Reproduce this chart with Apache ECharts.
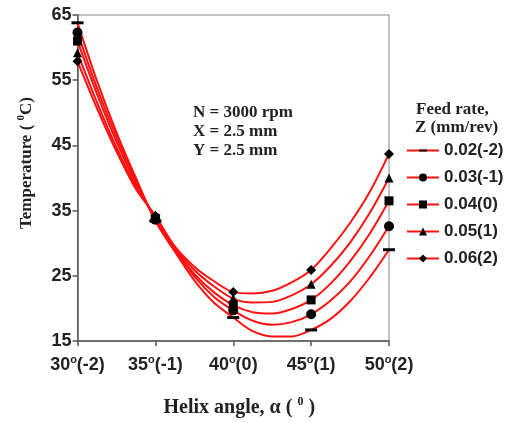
<!DOCTYPE html>
<html>
<head>
<meta charset="utf-8">
<script src="https://cdn.jsdelivr.net/npm/echarts@6/dist/echarts.min.js"></script>
<style>html,body{margin:0;padding:0;background:#fff}#c{width:516px;height:423px}</style>
</head>
<body>
<div id="c"></div>
<script>
// measured points (markers)
var helixAngles = [30, 35, 40, 45, 50];
var helixLevels = ['-2', '-1', '0', '1', '2'];
var seriesNames = ['0.02(-2)', '0.03(-1)', '0.04(0)', '0.05(1)', '0.06(2)'];
var feed002 = [63.8, 33.4, 18.6, 16.7, 29.0];
var feed003 = [62.3, 33.6, 19.7, 19.1, 32.6];
var feed004 = [61.0, 33.8, 20.5, 21.3, 36.5];
var feed005 = [59.2, 34.0, 21.5, 23.7, 40.0];
var feed006 = [57.9, 34.2, 22.5, 25.9, 43.7];
// fitted curve positions read between the measured angles (3 per gap)
var midAngles = [31.25, 32.5, 33.75, 36.25, 37.5, 38.75, 41.25, 42.5, 43.75, 46.25, 47.5, 48.75];
var curve002 = [54.9, 47.0, 40.0, 28.7, 24.3, 20.9, 16.5, 15.7, 15.7, 18.4, 21.1, 24.7];
var curve003 = [53.8, 46.3, 39.6, 29.0, 24.9, 21.8, 18.1, 17.5, 17.9, 21.2, 24.1, 28.0];
var curve004 = [52.9, 45.6, 39.2, 29.1, 25.3, 22.5, 19.4, 19.2, 19.9, 23.8, 27.2, 31.4];
var curve005 = [51.6, 44.7, 38.7, 29.3, 25.9, 23.4, 20.9, 21.0, 22.0, 26.5, 30.1, 34.6];
var curve006 = [50.7, 44.1, 38.3, 29.5, 26.4, 24.2, 22.3, 22.7, 24.0, 29.2, 33.1, 37.8];
var yTicks = [15, 25, 35, 45, 55, 65];

var allMarkers = [feed002, feed003, feed004, feed005, feed006];
var allCurves = [curve002, curve003, curve004, curve005, curve006];
var symbols = ['path://M0,0M0,4.5H12V7.5H0ZM12,12', 'circle', 'rect', 'triangle', 'diamond'];
var symSizes = [12, 10, 9, 9, 10];

var chart = echarts.init(document.getElementById('c'), null, {renderer: 'canvas'});

var series = allMarkers.map(function (vals, i) {
  var pts = [];
  helixAngles.forEach(function (a, j) { pts.push({value: [a, vals[j]]}); });
  midAngles.forEach(function (a, j) { pts.push({value: [a, allCurves[i][j]], symbol: 'none'}); });
  pts.sort(function (p, q) { return p.value[0] - q.value[0]; });
  return {
    name: seriesNames[i],
    type: 'line',
    smooth: 0.3,
    data: pts,
    symbol: symbols[i],
    symbolSize: symSizes[i],
    symbolKeepAspect: true,
    showAllSymbol: true,
    lineStyle: {color: '#ff1010', width: 2},
    itemStyle: {color: '#000'},
    z: 3
  };
});

chart.setOption({
  animation: false,
  backgroundColor: '#fff',
  grid: {left: 77.5, right: 127, top: 15, bottom: 77, show: true, borderColor: '#888', borderWidth: 1},
  xAxis: {
    type: 'value', min: 30, max: 50, interval: 5,
    axisLine: {lineStyle: {color: '#555', width: 1.5}},
    axisTick: {show: true, length: 5, lineStyle: {color: '#555', width: 1.5}},
    splitLine: {show: false},
    axisLabel: {
      margin: 13,
      formatter: function (v) {
        var i = helixAngles.indexOf(v);
        return v + '{s|o}(' + helixLevels[i] + ')';
      },
      fontFamily: 'Liberation Sans', fontWeight: 'bold', fontSize: 18, color: '#222',
      rich: {s: {fontFamily: 'Liberation Sans', fontSize: 11, fontWeight: 'bold', color: '#222', padding: [0, 0, 12, 0]}}
    },
    name: 'Helix angle, \u03b1 ( {s|0} )',
    nameLocation: 'middle', nameGap: 55,
    nameTextStyle: {fontFamily: 'Liberation Serif', fontWeight: 'bold', fontSize: 20, color: '#222', padding: [0, 0, 0, 12],
      rich: {s: {fontFamily: 'Liberation Serif', fontWeight: 'bold', fontSize: 12, color: '#222', padding: [0, 0, 12, 0]}}}
  },
  yAxis: {
    type: 'value', min: 15, max: 65, interval: 10,
    axisLine: {show: true, lineStyle: {color: '#555', width: 1.5}},
    axisTick: {show: true, length: 5, lineStyle: {color: '#555', width: 1.5}},
    splitLine: {show: false},
    axisLabel: {margin: 6, fontFamily: 'Liberation Sans', fontWeight: 'bold', fontSize: 18, color: '#222',
      formatter: function (v) { return yTicks.indexOf(v) >= 0 ? String(v) : ''; }},
    name: 'Temperature ( {s|0}C)',
    nameLocation: 'middle', nameRotate: 90, nameGap: 39,
    nameTextStyle: {fontFamily: 'Liberation Serif', fontWeight: 'bold', fontSize: 17, color: '#222', padding: [0, 0, 0, 30],
      rich: {s: {fontFamily: 'Liberation Serif', fontWeight: 'bold', fontSize: 11, color: '#222', padding: [0, 0, 12, 0]}}}
  },
  legend: {
    orient: 'vertical', left: 401, top: 137,
    itemWidth: 32, itemHeight: 10, itemGap: 10,
    symbolKeepAspect: true,
    textStyle: {fontFamily: 'Liberation Sans', fontWeight: 'bold', fontSize: 17, lineHeight: 16, color: '#222', padding: [0, 0, 0, 0]},
    data: seriesNames
  },
  graphic: [
    {type: 'text', left: 416, top: 101, style: {text: 'Feed rate,', fontFamily: 'Liberation Serif', fontWeight: 'bold', fontSize: 17, fill: '#222'}},
    {type: 'text', left: 415, top: 119, style: {text: 'Z (mm/rev)', fontFamily: 'Liberation Serif', fontWeight: 'bold', fontSize: 17, fill: '#222'}},
    {type: 'text', left: 193, top: 103, style: {text: 'N = 3000 rpm\nX = 2.5 mm\nY = 2.5 mm', lineHeight: 19, fontFamily: 'Liberation Serif', fontWeight: 'bold', fontSize: 17, fill: '#222'}}
  ],
  series: series
});
</script>
</body>
</html>
